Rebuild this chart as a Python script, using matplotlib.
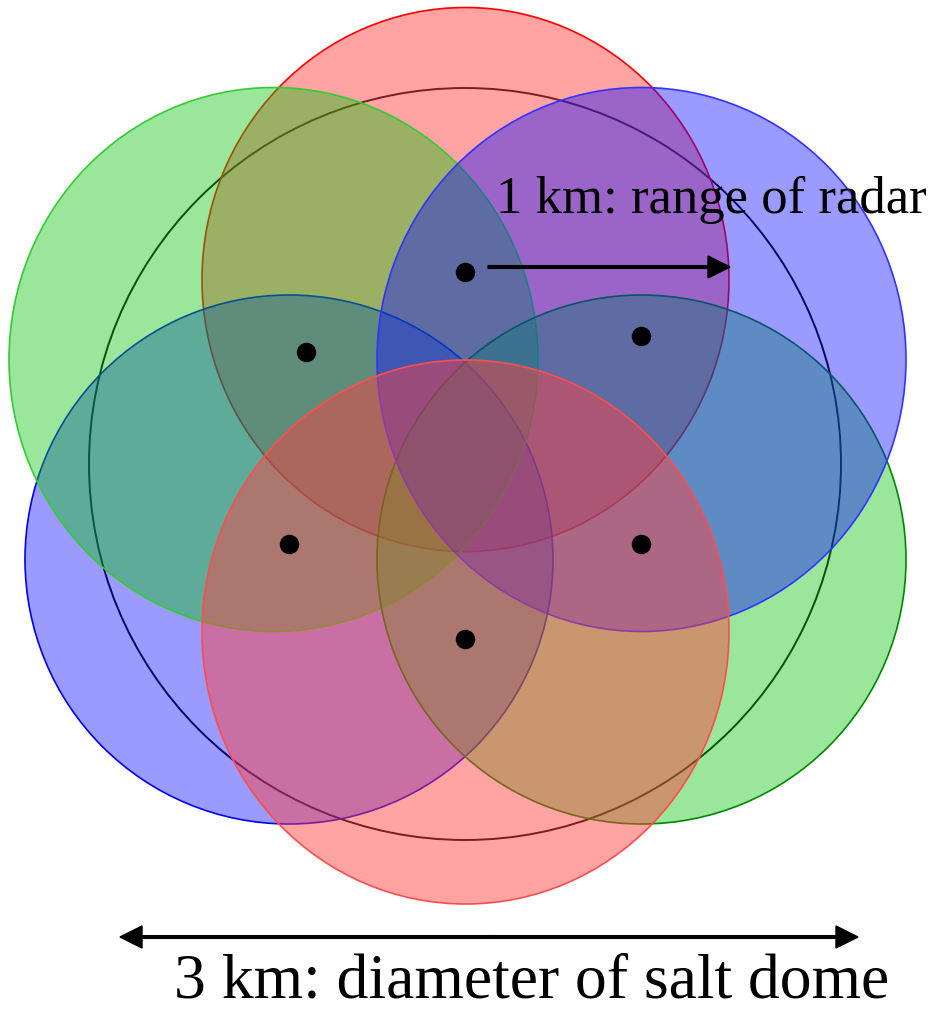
import matplotlib
matplotlib.use("Agg")
import matplotlib.pyplot as plt
from matplotlib.patches import Ellipse, Circle

# ---- data (pixel-space geometry) ----
circle_names = ["red_top", "blue_left", "green_topleft", "green_right", "blue_topright", "red_bottom"]
circle_cx = [465.5, 289, 273.5, 641.5, 641.5, 465.5]
circle_cy = [279.5, 559.5, 359.5, 559.5, 359.5, 632]
circle_w = [527, 528, 529, 529, 529, 527]
circle_h = [544, 529, 544, 529, 544, 544]
red_fill = (1.0, 0.25, 0.25, 0.48)
blue_fill = (0.06, 0.06, 1.0, 0.42)
green_fill = (0.06, 0.77, 0.06, 0.42)
fill_colors = [red_fill, blue_fill, green_fill, green_fill, blue_fill, red_fill]
edge_colors = ["#ff0000", "#0000ee", "#33cc33", "#008800", "#3333ff", "#ff4d4d"]

dome_center = (465, 464)
dome_radius = 376

dot_x = [465, 306, 641, 289, 641, 465]
dot_y = [272, 352, 336, 544, 544, 639]

radar_label = "1 km: range of radar"
dome_label = "3 km: diameter of salt dome"

W, H = 932, 1011
fig = plt.figure(figsize=(W / 100, H / 100), dpi=100)
ax = fig.add_axes([0, 0, 1, 1])
ax.set_xlim(0, W)
ax.set_ylim(H, 0)
ax.axis("off")

# salt dome outline (underneath)
ax.add_patch(Circle(dome_center, dome_radius, facecolor="none",
                    edgecolor="black", lw=1.4, zorder=1))

for i in range(len(circle_names)):
    ax.add_patch(Ellipse((circle_cx[i], circle_cy[i]), circle_w[i], circle_h[i],
                         facecolor=fill_colors[i], edgecolor=edge_colors[i],
                         lw=1.2, zorder=2 + i))

ax.plot(dot_x, dot_y, "o", color="black", markersize=13, zorder=20)

# radar range arrow
ax.arrow(488, 267, 730 - 488, 0, width=2.7, head_width=22, head_length=22,
         length_includes_head=True, color="black", zorder=21)

# dome diameter double arrow
mid = (120 + 858) / 2
for end in (120, 858):
    ax.arrow(mid, 937, end - mid, 0, width=2.7, head_width=22, head_length=22,
             length_includes_head=True, color="black", zorder=21)

ax.text(496, 213, radar_label, fontfamily="Liberation Serif", fontsize=38,
        ha="left", va="baseline", zorder=22)
ax.text(174, 998, dome_label, fontfamily="Liberation Serif", fontsize=45.8,
        ha="left", va="baseline", zorder=22)

fig.savefig("out.png", dpi=100)
